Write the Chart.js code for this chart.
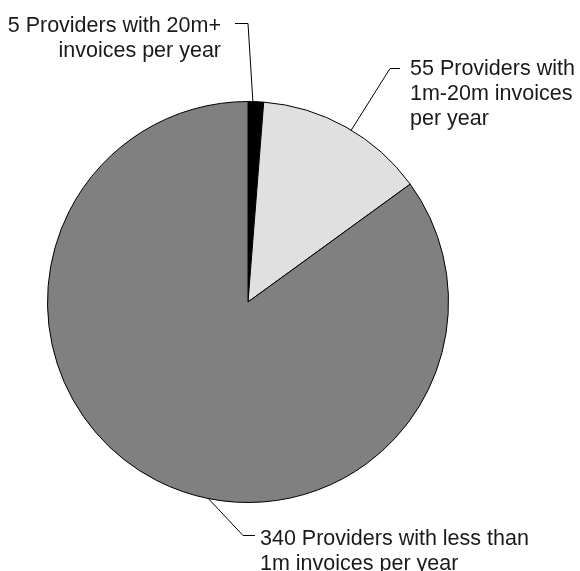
<!DOCTYPE html>
<html>
<head>
    <title>Providers by yearly invoice volume</title>
    <script src="https://cdn.jsdelivr.net/npm/chart.js"></script>
    <style>
        html, body { margin: 0; padding: 0; background: #fff; }
        #wrap { width: 580px; height: 571px; }
    </style>
</head>
<body>

<div id="wrap"><canvas id="myChart"></canvas></div>

<script>
    // data
    var categories = ['20m+ invoices per year', '1m-20m invoices per year', 'less than 1m invoices per year'];
    var providerCounts = [5, 55, 340];
    var labelLines = [
        ['5 Providers with 20m+', 'invoices per year'],
        ['55 Providers with', '1m-20m invoices', 'per year'],
        ['340 Providers with less than', '1m invoices per year']
    ];

    var sliceColors = ['#000000', '#e0e0e0', '#808080'];

    // where each callout leaves the rim (degrees clockwise from top), elbow, tick end, text anchor
    var callouts = [
        { rimDeg: 1.4, elbow: [248, 23], tick: [235, 23], textX: 221, textY: 32, align: 'right' },
        { rimDeg: 31, elbow: [390, 68], tick: [400, 68], textX: 410, textY: 75, align: 'left' },
        { rimDeg: 191.4, elbow: [243, 535], tick: [255, 535], textX: 260, textY: 545, align: 'left' }
    ];

    var calloutPlugin = {
        id: 'callouts',
        afterDraw(chart) {
            var ctx = chart.ctx;
            var arc = chart.getDatasetMeta(0).data[0];
            var cx = arc.x, cy = arc.y, r = arc.outerRadius;
            ctx.save();
            ctx.strokeStyle = '#000';
            ctx.lineWidth = 1;
            ctx.fillStyle = '#1a1a1a';
            ctx.font = '21.5px "Liberation Sans", Arial, sans-serif';
            ctx.textBaseline = 'alphabetic';
            callouts.forEach(function (c, i) {
                var a = c.rimDeg * Math.PI / 180;
                var sx = cx + r * Math.sin(a);
                var sy = cy - r * Math.cos(a);
                ctx.beginPath();
                ctx.moveTo(sx, sy);
                ctx.lineTo(c.elbow[0], c.elbow[1] + 0.5);
                ctx.lineTo(c.tick[0], c.tick[1] + 0.5);
                ctx.stroke();
                ctx.textAlign = c.align;
                labelLines[i].forEach(function (line, j) {
                    ctx.fillText(line, c.textX, c.textY + j * 25);
                });
            });
            ctx.restore();
        }
    };

    var ctx = document.getElementById('myChart').getContext('2d');
    var myChart = new Chart(ctx, {
        type: 'pie',
        data: {
            labels: categories,
            datasets: [{
                data: providerCounts,
                backgroundColor: sliceColors,
                borderColor: '#000000',
                borderWidth: 1
            }]
        },
        options: {
            responsive: true,
            maintainAspectRatio: false,
            animation: false,
            layout: {
                padding: { top: 101, bottom: 68, left: 47, right: 131 }
            },
            plugins: {
                legend: { display: false },
                tooltip: { enabled: false }
            }
        },
        plugins: [calloutPlugin]
    });
</script>

</body>
</html>
